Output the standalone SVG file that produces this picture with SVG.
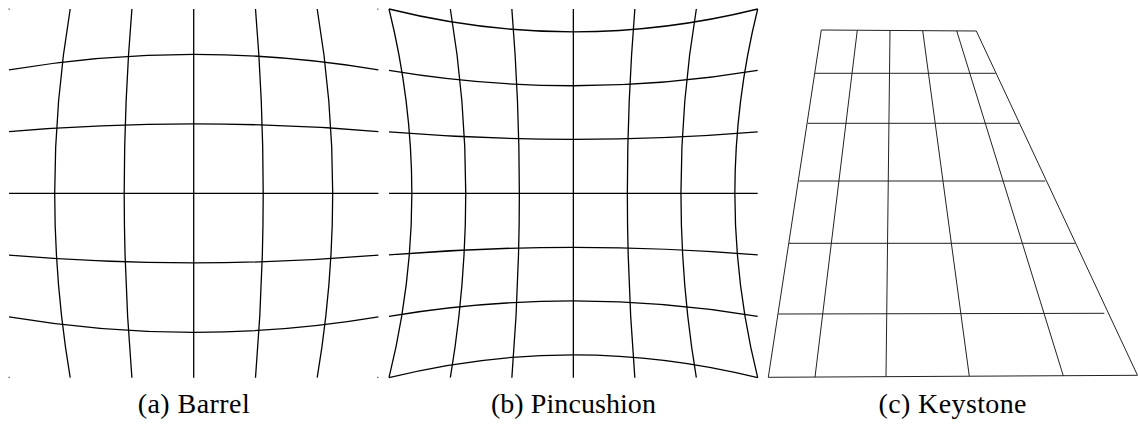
<svg xmlns="http://www.w3.org/2000/svg" width="1138" height="424" viewBox="0 0 1138 424">
<style>
.g{fill:none;stroke:#000;stroke-width:1.3}
.k{fill:none;stroke:#222;stroke-width:1}
.dot{fill:#444}
.cap{font-family:"Liberation Serif","Times New Roman",serif;font-size:28px;fill:#000;text-anchor:middle}
</style>
<rect width="1138" height="424" fill="#fff"/>
<g id="barrel">
<path class="g" d="M70.2,9 Q39.2,193.35 70.2,377.7"/>
<path class="g" d="M131.9,9 Q116.5,193.35 131.9,377.7"/>
<path class="g" d="M193.7,9 L193.7,377.7"/>
<path class="g" d="M255.5,9 Q270.9,193.35 255.5,377.7"/>
<path class="g" d="M317.2,9 Q348.2,193.35 317.2,377.7"/>
<path class="g" d="M9,69.85 Q193.7,38.85 378.4,69.85"/>
<path class="g" d="M9,131.55 Q193.7,116.15 378.4,131.55"/>
<path class="g" d="M9,193.35 L378.4,193.35"/>
<path class="g" d="M9,255.15 Q193.7,270.55 378.4,255.15"/>
<path class="g" d="M9,316.85 Q193.7,347.85 378.4,316.85"/>
<rect class="dot" x="8.5" y="8.5" width="1.2" height="1.2"/>
<rect class="dot" x="377.2" y="8.5" width="1.2" height="1.2"/>
<rect class="dot" x="8.5" y="376.8" width="1.2" height="1.2"/>
<rect class="dot" x="377.2" y="376.8" width="1.2" height="1.2"/>
</g>
<g id="pincushion">
<path class="g" d="M389,9 Q434.7,193.35 389,377.7"/>
<path class="g" d="M450.35,9 Q481.15,193.35 450.35,377.7"/>
<path class="g" d="M511.85,9 Q526.85,193.35 511.85,377.7"/>
<path class="g" d="M573.35,9 L573.35,377.7"/>
<path class="g" d="M634.85,9 Q619.85,193.35 634.85,377.7"/>
<path class="g" d="M696.35,9 Q665.55,193.35 696.35,377.7"/>
<path class="g" d="M757.7,9 Q712,193.35 757.7,377.7"/>
<path class="g" d="M389,9 Q573.35,54.7 757.7,9"/>
<path class="g" d="M389,70.35 Q573.35,101.15 757.7,70.35"/>
<path class="g" d="M389,131.85 Q573.35,146.85 757.7,131.85"/>
<path class="g" d="M389,193.35 L757.7,193.35"/>
<path class="g" d="M389,254.85 Q573.35,239.85 757.7,254.85"/>
<path class="g" d="M389,316.35 Q573.35,285.55 757.7,316.35"/>
<path class="g" d="M389,377.7 Q573.35,332 757.7,377.7"/>
</g>
<g id="keystone">
<polygon class="k" points="821.3,30 976.3,31 1137.5,375.3 768.3,377.3"/>
<path class="k" d="M815,73.3 L995.7,73.3"/>
<path class="k" d="M807.7,123.3 L1019.3,123.3"/>
<path class="k" d="M799.3,181 L1045.3,181"/>
<path class="k" d="M789,243.3 L1075.3,243.3"/>
<path class="k" d="M778.3,314 L1104.3,313.3"/>
<path class="k" d="M857.3,30.2 L815,377.2"/>
<path class="k" d="M890,30.4 L886,376.9"/>
<path class="k" d="M922.7,30.6 L969.3,376.3"/>
<path class="k" d="M956.7,30.8 L1063.3,375.8"/>
</g>
<g id="captions">
<text class="cap" x="193.7" y="413" textLength="112">(a) Barrel</text>
<text class="cap" x="573.4" y="413" textLength="165">(b) Pincushion</text>
<text class="cap" x="952.5" y="413" textLength="148">(c) Keystone</text>
</g>
</svg>
